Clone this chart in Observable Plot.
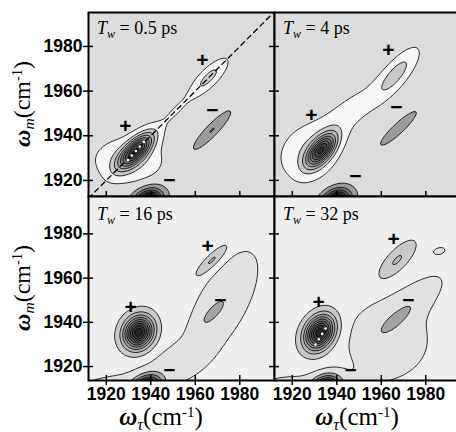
<!DOCTYPE html>
<html><head><meta charset="utf-8">
<script src="https://cdn.jsdelivr.net/npm/d3@7"></script>
<script src="https://cdn.jsdelivr.net/npm/@observablehq/plot@0.6"></script>
<style>
body{margin:0;background:#fff;}
#chart{position:relative;width:456px;height:432px;overflow:hidden;background:#fff;}
#chart svg{position:absolute;}
</style></head><body><div id="chart"></div>
<script>
// ---------- data ----------
const waitingTimes = ["0.5", "4", "16", "32"];
const xTicks = [1920, 1940, 1960, 1980];
const yTicks = [1920, 1940, 1960, 1980];
const xDomain = [1912, 1995.6];
const yDomainTop = [1912.8, 1995.2];
const yDomainBottom = [1913.7, 1996.9];
const posLevels = [0.05, 0.16, 0.27, 0.38, 0.49, 0.60, 0.71, 0.82, 0.93];
const negLevels = [0.05, 0.16, 0.27, 0.38, 0.49, 0.60, 0.71];

// peaks: [center ωτ, center ωm, amplitude, width along axis, width across, axis angle (deg)]
const peaksTw05 = [
  [1933.3, 1933.3, 0.85, 6.8, 2.9, 45],
  [1930, 1929, 0.15, 10, 6.5, 0],
  [1951, 1951, 0.06, 7, 2, 45],
  [1966, 1966, 0.20, 7, 2.4, 45],
  [1967.5, 1942.5, -0.163, 7.7, 1.7, 46],
  [1938.5, 1910.5, -0.8, 4.5, 3.2, 30]
];
const peaksTw4 = [
  [1933, 1933.5, 0.85, 6, 3.0, 50],
  [1927, 1932, 0.12, 9, 8, 45],
  [1944, 1949, 0.085, 16, 5, 40],
  [1966.5, 1967.5, 0.208, 8.9, 3.0, 50],
  [1967.7, 1943.3, -0.14, 7.5, 1.6, 43],
  [1939.5, 1910.5, -0.8, 4.5, 3.2, 30]
];
const peaksTw16 = [
  [1934.5, 1935.5, 1.0, 5.0, 4.2, 62],
  [1967.5, 1968, 0.2, 6.9, 1.8, 45],
  [1968, 1944.5, -0.13, 6.2, 2.1, 48],
  [1972, 1948, -0.085, 26, 10.5, 61],
  [1950, 1922, -0.06, 10, 5, 20],
  [1922, 1910, -0.075, 18, 6, 8],
  [1938, 1910.5, -0.8, 4.5, 3.2, 25]
];
const peaksTw32 = [
  [1932.2, 1935.4, 1.0, 5.5, 4.0, 60],
  [1967, 1968, 0.175, 7.5, 2.8, 47],
  [1966.3, 1941, -0.075, 8.3, 2.5, 40],
  [1963, 1932, -0.1, 15, 14, 0],
  [1976, 1951, -0.08, 13, 5, 40],
  [1922, 1910, -0.075, 20, 6, 0],
  [1986, 1972.3, -0.065, 3.2, 1.8, 15],
  [1935, 1910.5, -0.8, 4.2, 3.2, 25]
];

// sign annotations: [ωτ, ωm, sign]
const signsTw05 = [[1928.6, 1944.4, "+"], [1963.2, 1974, "+"], [1967.7, 1951.6, "−"], [1948.4, 1920.2, "−"]];
const signsTw4 = [[1928.6, 1949.3, "+"], [1963.2, 1978.5, "+"], [1966.8, 1952.9, "−"], [1948.4, 1921.9, "−"]];
const signsTw16 = [[1930.9, 1946.6, "+"], [1965.5, 1974.4, "+"], [1971.3, 1949.8, "−"], [1948.4, 1918.4, "−"]];
const signsTw32 = [[1931.8, 1948.9, "+"], [1965.5, 1977.6, "+"], [1972.2, 1950.2, "−"], [1946.2, 1918.4, "−"]];

// center lines (white dotted)
const centerLineTw05 = [[1929.7, 1929.1], [1936.9, 1937.3]];
const centerLineTw32 = [[1930.4, 1929.9], [1936.4, 1939.6]];

// ---------- styles ----------
const topBg = "#dcdcdc", bottomBg = "#efefef";
const topPos = ["#f6f6f6","#c9c9c9","#b3b3b3","#9d9d9d","#878787","#717171","#5b5b5b","#454545","#2f2f2f"];
const topNeg = ["#9b9b9b","#727272","#555555","#3c3c3c","#2a2a2a","#1e1e1e","#111111"];
const botPos = ["#c9c9c9","#b5b5b5","#a0a0a0","#8b8b8b","#767676","#616161","#4c4c4c","#383838","#262626"];
const botNeg = ["#e1e1e1","#a3a3a3","#7c7c7c","#5a5a5a","#3c3c3c","#282828","#181818"];
const sansFont = "'Liberation Sans', Arial, sans-serif";
const serifFont = "'Liberation Serif', 'Times New Roman', serif";

function field(peaks) {
  const P = peaks.map(([cx, cy, a, sd, sa, ang]) => {
    const t = ang * Math.PI / 180;
    return {cx, cy, a, c: Math.cos(t), s: Math.sin(t), kd: 0.5 / (sd * sd), ka: 0.5 / (sa * sa)};
  });
  return (x, y) => {
    let v = 0;
    for (const p of P) {
      const dx = x - p.cx, dy = y - p.cy;
      const u = dx * p.c + dy * p.s, w = -dx * p.s + dy * p.c;
      v += p.a * Math.exp(-(u * u * p.kd + w * w * p.ka));
    }
    return v;
  };
}

const chart = document.getElementById("chart");

function panel(cfg) {
  const {peaks, signs, yDomain, bg, pos, neg, left, top, width, height, mL, mR, mT, mB, yLabels, xLabels, diag, centerLine, dash} = cfg;
  const f = field(peaks);
  const g = (x, y) => -f(x, y);
  const ext = {x1: xDomain[0], x2: xDomain[1], y1: yDomain[0], y2: yDomain[1], pixelSize: 1, stroke: "#000", strokeWidth: 0.8};
  const marks = [Plot.frame({fill: bg})];
  posLevels.forEach((t, i) => marks.push(Plot.contour({...ext, value: f, thresholds: [t], fill: pos[i]})));
  negLevels.forEach((t, i) => marks.push(Plot.contour({...ext, value: g, thresholds: [t], fill: neg[i]})));
  if (diag) marks.push(Plot.line(xDomain, {x: d => d, y: d => d, stroke: "#000", strokeWidth: 1.3, strokeDasharray: "5,4", clip: true}));
  if (centerLine) marks.push(Plot.line(centerLine, {x: d => d[0], y: d => d[1], stroke: "#fff", strokeWidth: 2.6, strokeLinecap: "round", strokeDasharray: `0,${dash}`}));
  marks.push(Plot.text(signs, {x: d => d[0], y: d => d[1], text: d => d[2], fontSize: 21, fontWeight: "bold", fontFamily: sansFont, fill: "#000"}));
  // cross ticks
  marks.push(Plot.axisY({ticks: yTicks, anchor: "left", tickSize: 10, dx: 5, tickFormat: () => "", label: null, strokeWidth: 1.5}));
  marks.push(Plot.axisX({ticks: xTicks, anchor: "bottom", tickSize: 10, dy: -5, tickFormat: () => "", label: null, strokeWidth: 1.5}));
  if (yLabels) marks.push(Plot.axisY({ticks: yTicks, anchor: "left", tickSize: 0, tickPadding: 6, tickFormat: d => String(d), label: null, fontSize: 17.5, fontWeight: "bold", fontFamily: sansFont, fill: "#000"}));
  if (xLabels) marks.push(Plot.axisX({ticks: xTicks, anchor: "bottom", tickSize: 0, tickPadding: 7, tickFormat: d => String(d), label: null, fontSize: 17.5, fontWeight: "bold", fontFamily: sansFont, fill: "#000"}));
  marks.push(Plot.frame({stroke: "#000", strokeWidth: 2}));
  const svg = Plot.plot({
    width, height, marginLeft: mL, marginRight: mR, marginTop: mT, marginBottom: mB,
    x: {domain: xDomain}, y: {domain: yDomain},
    style: {overflow: "visible", background: "transparent"},
    marks
  });
  svg.style.left = left + "px";
  svg.style.top = top + "px";
  svg.style.maxWidth = "none";
  chart.appendChild(svg);
}

panel({peaks: peaksTw05, signs: signsTw05, yDomain: yDomainTop, bg: topBg, pos: topPos, neg: topNeg,
  left: 0, top: 0, width: 276, height: 198, mL: 88, mR: 2, mT: 12, mB: 2, yLabels: true, xLabels: false,
  diag: true, centerLine: centerLineTw05, dash: 6.05});
panel({peaks: peaksTw4, signs: signsTw4, yDomain: yDomainTop, bg: topBg, pos: topPos, neg: topNeg,
  left: 272, top: 0, width: 190, height: 198, mL: 2, mR: 2, mT: 12, mB: 2, yLabels: false, xLabels: false});
panel({peaks: peaksTw16, signs: signsTw16, yDomain: yDomainBottom, bg: bottomBg, pos: botPos, neg: botNeg,
  left: 0, top: 194, width: 276, height: 238, mL: 88, mR: 2, mT: 2, mB: 52, yLabels: true, xLabels: true});
panel({peaks: peaksTw32, signs: signsTw32, yDomain: yDomainBottom, bg: bottomBg, pos: botPos, neg: botNeg,
  left: 272, top: 194, width: 190, height: 238, mL: 2, mR: 2, mT: 2, mB: 52, yLabels: false, xLabels: true,
  centerLine: centerLineTw32, dash: 6.35});

// ---------- text overlay ----------
const overlay = d3.create("svg").attr("width", 456).attr("height", 432)
  .style("left", "0px").style("top", "0px").style("overflow", "visible").style("white-space", "pre");
function twLabel(x, y, val) {
  const t = overlay.append("text").attr("x", x).attr("y", y).attr("font-family", serifFont).attr("font-size", 18).attr("fill", "#000");
  t.append("tspan").attr("font-style", "italic").text("T");
  t.append("tspan").attr("font-style", "italic").attr("font-size", 12).attr("dy", 3.5).text("w");
  t.append("tspan").attr("dy", -3.5).text(` = ${val} ps`);
}
function axisTitle(x, y, sub, rotate, size) {
  const t = overlay.append("text").attr("transform", `translate(${x},${y})${rotate ? " rotate(-90)" : ""}`)
    .attr("text-anchor", "middle").attr("font-family", serifFont).attr("font-size", size).attr("fill", "#000");
  t.append("tspan").attr("font-style", "italic").attr("font-weight", "bold").text("ω");
  t.append("tspan").attr("font-style", "italic").attr("font-size", size * 0.65).attr("dy", size * 0.18).text(sub);
  t.append("tspan").attr("dy", -size * 0.18).text("(cm");
  t.append("tspan").attr("font-size", size * 0.6).attr("dy", -size * 0.34).text("-1");
  t.append("tspan").attr("dy", size * 0.34).text(")");
}
twLabel(97, 34, waitingTimes[0]);
twLabel(283, 34, waitingTimes[1]);
twLabel(97, 220, waitingTimes[2]);
twLabel(283, 220, waitingTimes[3]);
axisTitle(30, 104, "m", true, 24);
axisTitle(30, 288, "m", true, 24);
axisTitle(161, 425, "τ", false, 25);
axisTitle(357, 425, "τ", false, 25);
chart.appendChild(overlay.node());
</script></body></html>
